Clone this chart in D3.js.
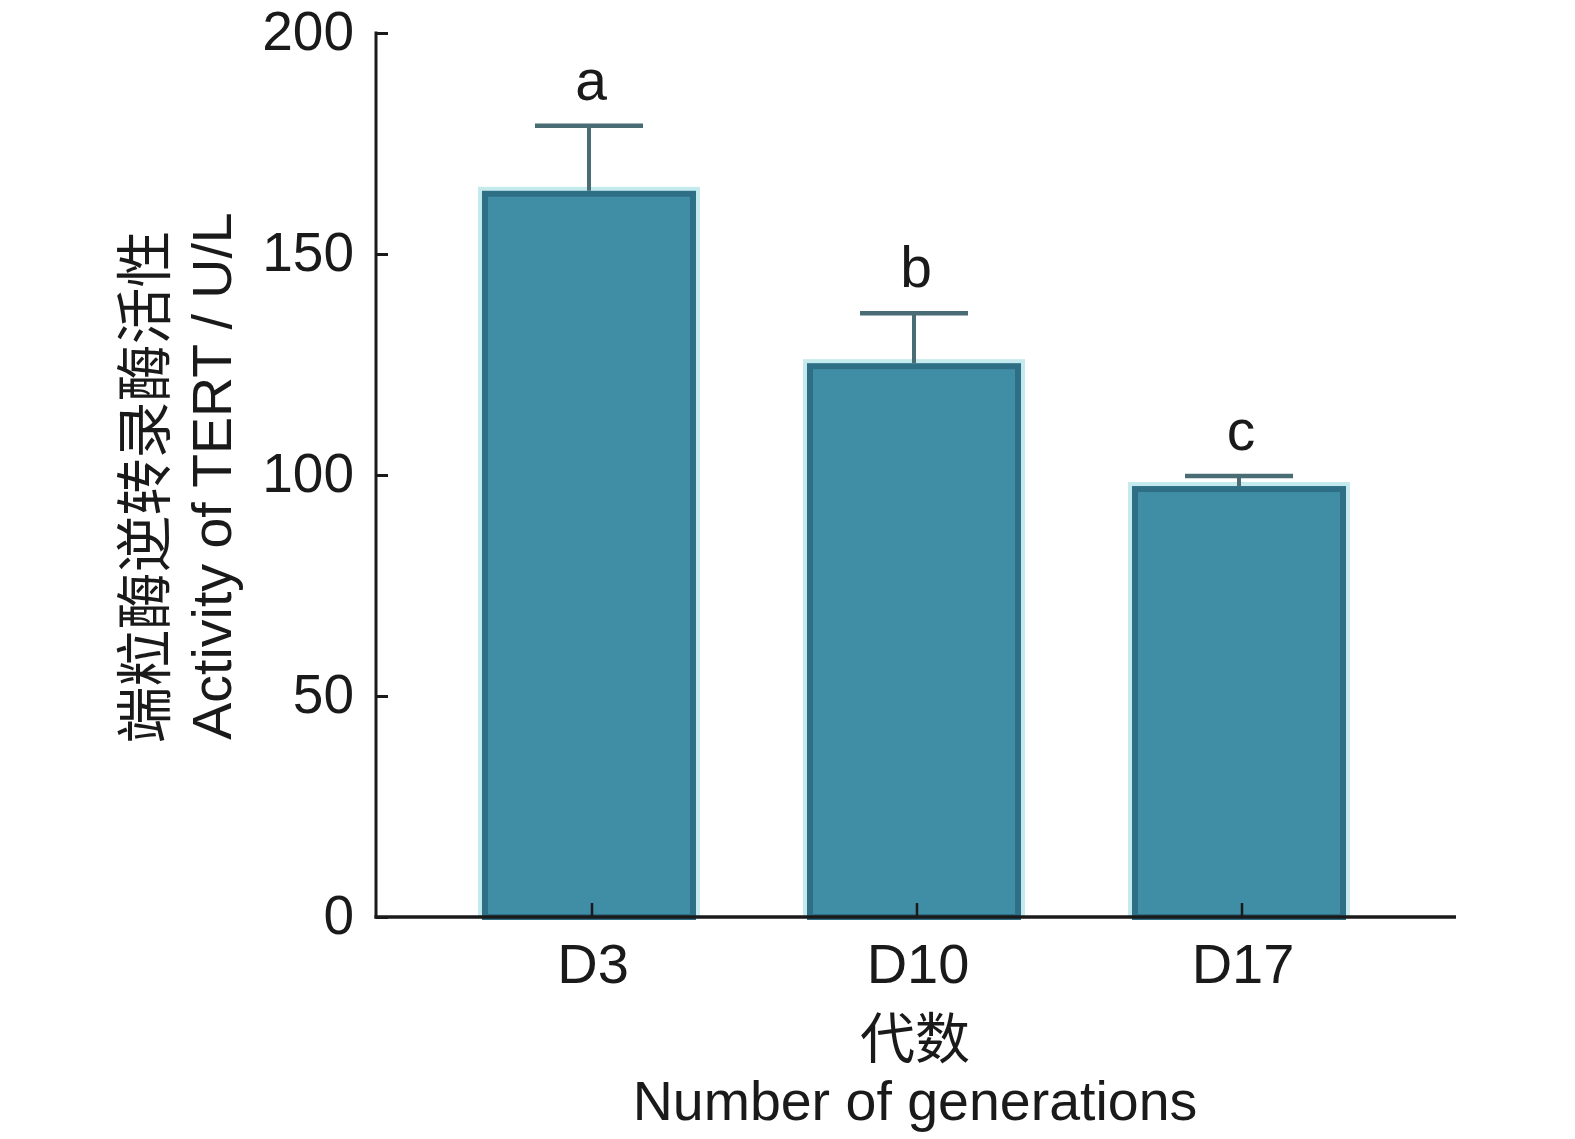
<!DOCTYPE html>
<html>
<head>
<meta charset="utf-8">
<script src="https://cdn.jsdelivr.net/npm/d3@7"></script>
<style>
  html, body { margin: 0; padding: 0; background: #ffffff; }
  svg { display: block; }
  text { font-family: "Liberation Sans", Arial, sans-serif; fill: #1a1a1a; }
  .cjk { font-family: "Noto Sans CJK SC", sans-serif; }
</style>
</head>
<body>
<svg id="chart" width="1575" height="1139"></svg>
<script>
const categories = ["D3", "D10", "D17"];
const means = [164.3, 125.3, 97.5];
const errors = [14.7, 11.3, 2.3];
const sigLetters = ["a", "b", "c"];
const yTicks = [0, 50, 100, 150, 200];
const yTitleCN = "端粒酶逆转录酶活性";
const yTitleEN = "Activity of TERT / U/L";
const xTitleCN = "代数";
const xTitleEN = "Number of generations";

const svg = d3.select("#chart");
const axisLeftX = 376, axisRightX = 1456;
const y = d3.scaleLinear().domain([0, 200]).range([917, 33]);
const x = d3.scaleBand().domain(categories).range([426.5, 1401.5])
  .paddingInner(0.3415).paddingOuter(0.17075);

const barColor = "#3f8ea5", borderColor = "#2f6f86", haloColor = "#c4eaee", errColor = "#4a6c75";

// halo
svg.append("g").selectAll("rect").data(categories).join("rect")
  .attr("x", d => x(d) - 4)
  .attr("y", (d, i) => y(means[i]) - 4)
  .attr("width", x.bandwidth() + 8)
  .attr("height", (d, i) => y(0) - y(means[i]) + 4)
  .attr("fill", haloColor);

// error bars
const eb = svg.append("g");
categories.forEach((c, i) => {
  const cx = x(c) + x.bandwidth() / 2;
  eb.append("line").attr("x1", cx).attr("x2", cx)
    .attr("y1", y(means[i])).attr("y2", y(means[i] + errors[i]))
    .attr("stroke", errColor).attr("stroke-width", 4);
  eb.append("line").attr("x1", cx - 54).attr("x2", cx + 54)
    .attr("y1", y(means[i] + errors[i])).attr("y2", y(means[i] + errors[i]))
    .attr("stroke", errColor).attr("stroke-width", 4.5);
});

// bars
svg.append("g").selectAll("rect").data(categories).join("rect")
  .attr("x", d => x(d) + 3)
  .attr("y", (d, i) => y(means[i]) + 3)
  .attr("width", x.bandwidth() - 6)
  .attr("height", (d, i) => y(0) - y(means[i]) - 3)
  .attr("fill", barColor)
  .attr("stroke", borderColor)
  .attr("stroke-width", 6);

// letters
svg.append("g").selectAll("text").data(categories).join("text")
  .attr("x", d => x(d) + x.bandwidth() / 2 + 2)
  .attr("y", (d, i) => y(means[i] + errors[i]) - 26)
  .attr("text-anchor", "middle")
  .attr("font-size", 57)
  .text((d, i) => sigLetters[i]);

// y axis
const yAxis = d3.axisRight(y).tickValues(yTicks).tickSize(12).tickFormat("");
const gy = svg.append("g").attr("transform", `translate(${axisLeftX},0)`).call(yAxis);
gy.select(".domain").remove();
gy.selectAll(".tick line").attr("stroke", "#1a1a1a").attr("stroke-width", 3);
svg.append("line").attr("x1", axisLeftX).attr("x2", axisLeftX)
  .attr("y1", y(200) - 1.5).attr("y2", y(0) + 1.5)
  .attr("stroke", "#1a1a1a").attr("stroke-width", 3);
svg.append("g").selectAll("text").data(yTicks).join("text")
  .attr("x", 354).attr("y", d => y(d) - 3)
  .attr("dy", "0.36em")
  .attr("text-anchor", "end")
  .attr("font-size", 55)
  .text(d => d);

// x axis
const xAxis = d3.axisTop(x).tickSize(14).tickFormat("");
const gx = svg.append("g").attr("transform", `translate(3,${y(0)})`).call(xAxis);
gx.select(".domain").remove();
gx.selectAll(".tick line").attr("stroke", "#1a1a1a").attr("stroke-width", 2.5);
svg.append("line").attr("x1", axisLeftX - 1.5).attr("x2", axisRightX)
  .attr("y1", y(0)).attr("y2", y(0))
  .attr("stroke", "#1a1a1a").attr("stroke-width", 3.5);
svg.append("g").selectAll("text").data(categories).join("text")
  .attr("x", d => x(d) + x.bandwidth() / 2 + 4)
  .attr("y", 983)
  .attr("text-anchor", "middle")
  .attr("font-size", 56)
  .text(d => d);

// x titles
svg.append("text").attr("class", "cjk")
  .attr("x", 915).attr("y", 1058)
  .attr("text-anchor", "middle").attr("font-size", 55)
  .text(xTitleCN);
svg.append("text")
  .attr("x", 915).attr("y", 1120)
  .attr("text-anchor", "middle").attr("font-size", 55.5)
  .text(xTitleEN);

// y titles
svg.append("text").attr("class", "cjk")
  .attr("transform", "translate(165,487) rotate(-90)")
  .attr("text-anchor", "middle").attr("font-size", 57)
  .text(yTitleCN);
svg.append("text")
  .attr("transform", "translate(231,476) rotate(-90)")
  .attr("text-anchor", "middle").attr("font-size", 55.5)
  .text(yTitleEN);
</script>
</body>
</html>
